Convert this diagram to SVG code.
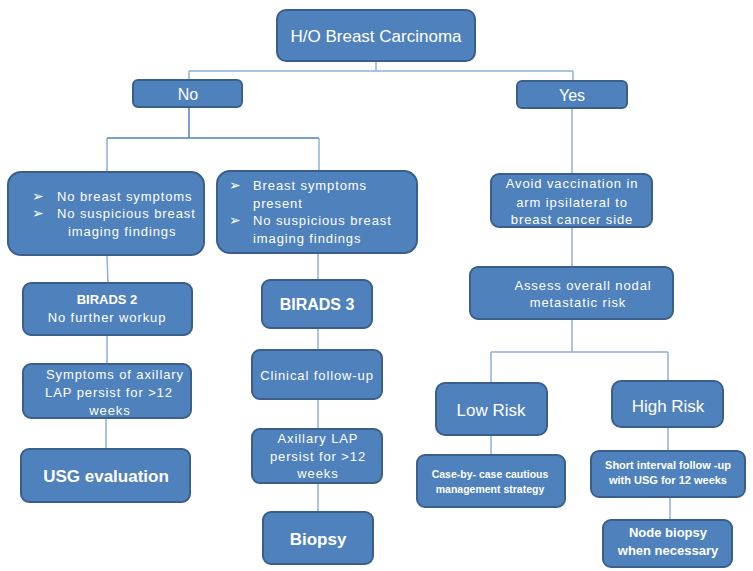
<svg xmlns="http://www.w3.org/2000/svg" width="753" height="571" viewBox="0 0 753 571">
<style>
.box{fill:#4f81bd;stroke:#3a5f8b;stroke-width:2}
.t{font-family:"Liberation Sans",Arial,sans-serif;fill:#fff;text-anchor:middle}
.l{text-anchor:start}
.sp{letter-spacing:0.9px}
.b{font-weight:bold}
.bu{font-family:"DejaVu Sans",sans-serif;fill:#fff;font-size:14px}
.c{fill:none;stroke:#8db0da;stroke-width:1.5}
.cd{fill:none;stroke:#4f81bd;stroke-width:1.5}
</style>
<rect width="753" height="571" fill="#fff"/>
<g id="connectors">
<path class="c" d="M376 61V71M189 71H573M189 71V80M573 71V81"/>
<path class="cd" d="M189 107V138M107 138H319"/>
<path class="c" d="M107 138V172M319 138V171M572 108V174M572 227V267M572 319V352M491 352H668M491 352V383M668 352V381M491 435V455M668 427V451M670 497V520"/>
<path class="c" d="M107 255L108 283M107 335V364M106 418V449M318 253V280M318 328V350M318 399V429M318 483V512"/>
</g>
<g id="n-top"><rect class="box" x="277" y="10" width="198" height="51" rx="9"/><text class="t" x="376" y="42" font-size="17">H/O Breast Carcinoma</text></g>
<g id="n-no"><rect class="box" x="133" y="80" width="109" height="27" rx="5"/><text class="t" x="188" y="100" font-size="16">No</text></g>
<g id="n-yes"><rect class="box" x="517" y="81" width="110" height="27" rx="5"/><text class="t" x="572" y="101" font-size="16">Yes</text></g>
<g id="n-nosym"><rect class="box" x="8" y="172" width="196" height="83" rx="13"/>
<text class="bu" x="32" y="201">➢</text><text class="t l sp" x="57" y="201" font-size="13">No breast symptoms</text>
<text class="bu" x="32" y="218">➢</text><text class="t l sp" x="57" y="218" font-size="13">No suspicious breast</text>
<text class="t l sp" x="68" y="236" font-size="13">imaging findings</text></g>
<g id="n-sym"><rect class="box" x="217" y="171" width="200" height="82" rx="13"/>
<text class="bu" x="229" y="190">➢</text><text class="t l sp" x="253" y="190" font-size="13">Breast symptoms</text>
<text class="t l sp" x="253" y="208" font-size="13">present</text>
<text class="bu" x="229" y="225">➢</text><text class="t l sp" x="253" y="225" font-size="13">No suspicious breast</text>
<text class="t l sp" x="253" y="243" font-size="13">imaging findings</text></g>
<g id="n-avoid"><rect class="box" x="491" y="174" width="161" height="53" rx="8"/>
<text class="t sp" x="572" y="188" font-size="13">Avoid vaccination in</text>
<text class="t sp" x="572" y="207" font-size="13">arm ipsilateral to</text>
<text class="t sp" x="572" y="224" font-size="13">breast cancer side</text></g>
<g id="n-assess"><rect class="box" x="470" y="267" width="203" height="52" rx="8"/>
<text class="t sp" x="583" y="290" font-size="13">Assess overall nodal</text>
<text class="t sp" x="578" y="307" font-size="13">metastatic risk</text></g>
<g id="n-birads2"><rect class="box" x="23" y="283" width="169" height="52" rx="8"/>
<text class="t b" x="107" y="304" font-size="13">BIRADS 2</text>
<text class="t sp" x="107" y="322" font-size="13">No further workup</text></g>
<g id="n-birads3"><rect class="box" x="262" y="280" width="110" height="48" rx="8"/>
<text class="t b" x="317" y="310" font-size="16">BIRADS 3</text></g>
<g id="n-axsym"><rect class="box" x="23" y="364" width="168" height="54" rx="8"/>
<text class="t sp" x="115" y="379" font-size="13">Symptoms of axillary</text>
<text class="t sp" x="109" y="397" font-size="13">LAP persist for &gt;12</text>
<text class="t sp" x="110" y="415" font-size="13">weeks</text></g>
<g id="n-usg"><rect class="box" x="21" y="449" width="169" height="53" rx="8"/>
<text class="t b" x="106" y="482" font-size="17">USG evaluation</text></g>
<g id="n-clin"><rect class="box" x="252" y="350" width="130" height="49" rx="8"/>
<text class="t sp" x="317" y="380" font-size="13">Clinical follow-up</text></g>
<g id="n-axlap"><rect class="box" x="252" y="429" width="130" height="54" rx="8"/>
<text class="t sp" x="318" y="443" font-size="13">Axillary LAP</text>
<text class="t sp" x="318" y="461" font-size="13">persist for &gt;12</text>
<text class="t sp" x="318" y="478" font-size="13">weeks</text></g>
<g id="n-biopsy"><rect class="box" x="263" y="512" width="110" height="52" rx="8"/>
<text class="t b" x="318" y="545" font-size="17">Biopsy</text></g>
<g id="n-low"><rect class="box" x="436" y="383" width="111" height="52" rx="9"/>
<text class="t" x="491" y="416" font-size="17">Low Risk</text></g>
<g id="n-high"><rect class="box" x="612" y="381" width="111" height="46" rx="9"/>
<text class="t" x="668" y="412" font-size="17">High Risk</text></g>
<g id="n-case"><rect class="box" x="417" y="455" width="148" height="52" rx="8"/>
<text class="t b" x="490" y="478" font-size="10.5">Case-by- case cautious</text>
<text class="t b" x="490" y="493" font-size="10.5">management strategy</text></g>
<g id="n-short"><rect class="box" x="591" y="451" width="154" height="46" rx="8"/>
<text class="t b" x="668" y="469" font-size="11">Short interval follow -up</text>
<text class="t b" x="668" y="484" font-size="11">with USG for 12 weeks</text></g>
<g id="n-node"><rect class="box" x="603" y="520" width="129" height="47" rx="8"/>
<text class="t b" x="668" y="537" font-size="13">Node biopsy</text>
<text class="t b" x="668" y="555" font-size="13">when necessary</text></g>
</svg>
